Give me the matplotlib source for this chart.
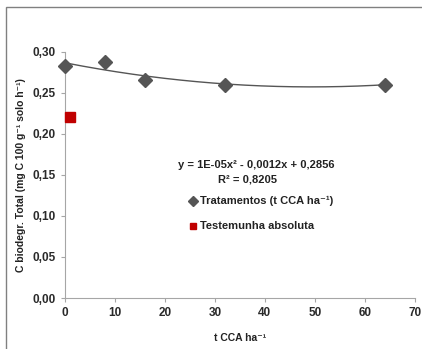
import numpy as np
import matplotlib.pyplot as plt
from matplotlib.patches import Rectangle
from matplotlib.lines import Line2D

# Data
dose = [0, 8, 16, 32, 64]
c_total = [0.282, 0.287, 0.266, 0.260, 0.260]
test_x = [1]
test_y = [0.220]

plt.rcParams['font.family'] = ['Liberation Sans', 'DejaVu Sans']
plt.rcParams['font.weight'] = 'bold'

fig = plt.figure(figsize=(4.22, 3.49), dpi=100)
ax = fig.add_axes([0.154, 0.146, 0.829, 0.706])

# outer frame (only top and left visible)
fig.patches.append(Rectangle((6 / 422, -0.1), 1.2, 1 - 6.5 / 349 + 0.1,
                             transform=fig.transFigure, fill=False,
                             edgecolor='#808080', linewidth=1.0))

# quadratic trend line fitted to the treatment points
coef = np.polyfit(dose, c_total, 2)
xs = np.linspace(0, 64, 200)
ax.plot(xs, np.polyval(coef, xs), color='#555555', linewidth=1.0, zorder=2)
ax.plot(dose, c_total, linestyle='none', marker='D', markersize=7,
        color='#555555', zorder=3, clip_on=False)
ax.plot(test_x, test_y, linestyle='none', marker='s', markersize=7,
        color='#c00000', zorder=3, clip_on=False)

ax.set_xlim(0, 70)
ax.set_ylim(0, 0.30)
ax.set_xticks(range(0, 71, 10))
ax.set_yticks(np.arange(0, 0.301, 0.05))
ax.set_yticklabels([f'{v:.2f}'.replace('.', ',') for v in np.arange(0, 0.301, 0.05)])
for s in ['top', 'right']:
    ax.spines[s].set_visible(False)
for s in ['left', 'bottom']:
    ax.spines[s].set_color('#a6a6a6')
ax.tick_params(colors='#a6a6a6', labelcolor='#2a2a2a', labelsize=8.5, length=3)
for lab in ax.get_xticklabels() + ax.get_yticklabels():
    lab.set_fontweight('bold')

ax.set_xlabel('t CCA ha⁻¹', fontsize=7.5, fontweight='bold', color='#222222', labelpad=10)
ax.set_ylabel('C biodegr. Total (mg C 100 g⁻¹ solo h⁻¹)', fontsize=7.5,
              fontweight='bold', color='#222222', labelpad=5)

fig.text(256 / 422, 1 - 165 / 349, 'y = 1E-05x² - 0,0012x + 0,2856', ha='center',
         va='center', fontsize=8, fontweight='bold', color='#222222')
fig.text(247 / 422, 1 - 179 / 349, 'R² = 0,8205', ha='center', va='center',
         fontsize=8, fontweight='bold', color='#222222')

fig.add_artist(Line2D([193 / 422], [1 - 201 / 349], marker='D', markersize=5,
                      color='#555555', transform=fig.transFigure))
fig.text(200 / 422, 1 - 201 / 349, 'Tratamentos (t CCA ha⁻¹)', ha='left', va='center',
         fontsize=8, fontweight='bold', color='#222222')
fig.add_artist(Line2D([193 / 422], [1 - 226 / 349], marker='s', markersize=5,
                      color='#c00000', transform=fig.transFigure))
fig.text(200 / 422, 1 - 226 / 349, 'Testemunha absoluta', ha='left', va='center',
         fontsize=8, fontweight='bold', color='#222222')

fig.savefig('out.png', dpi=100)
